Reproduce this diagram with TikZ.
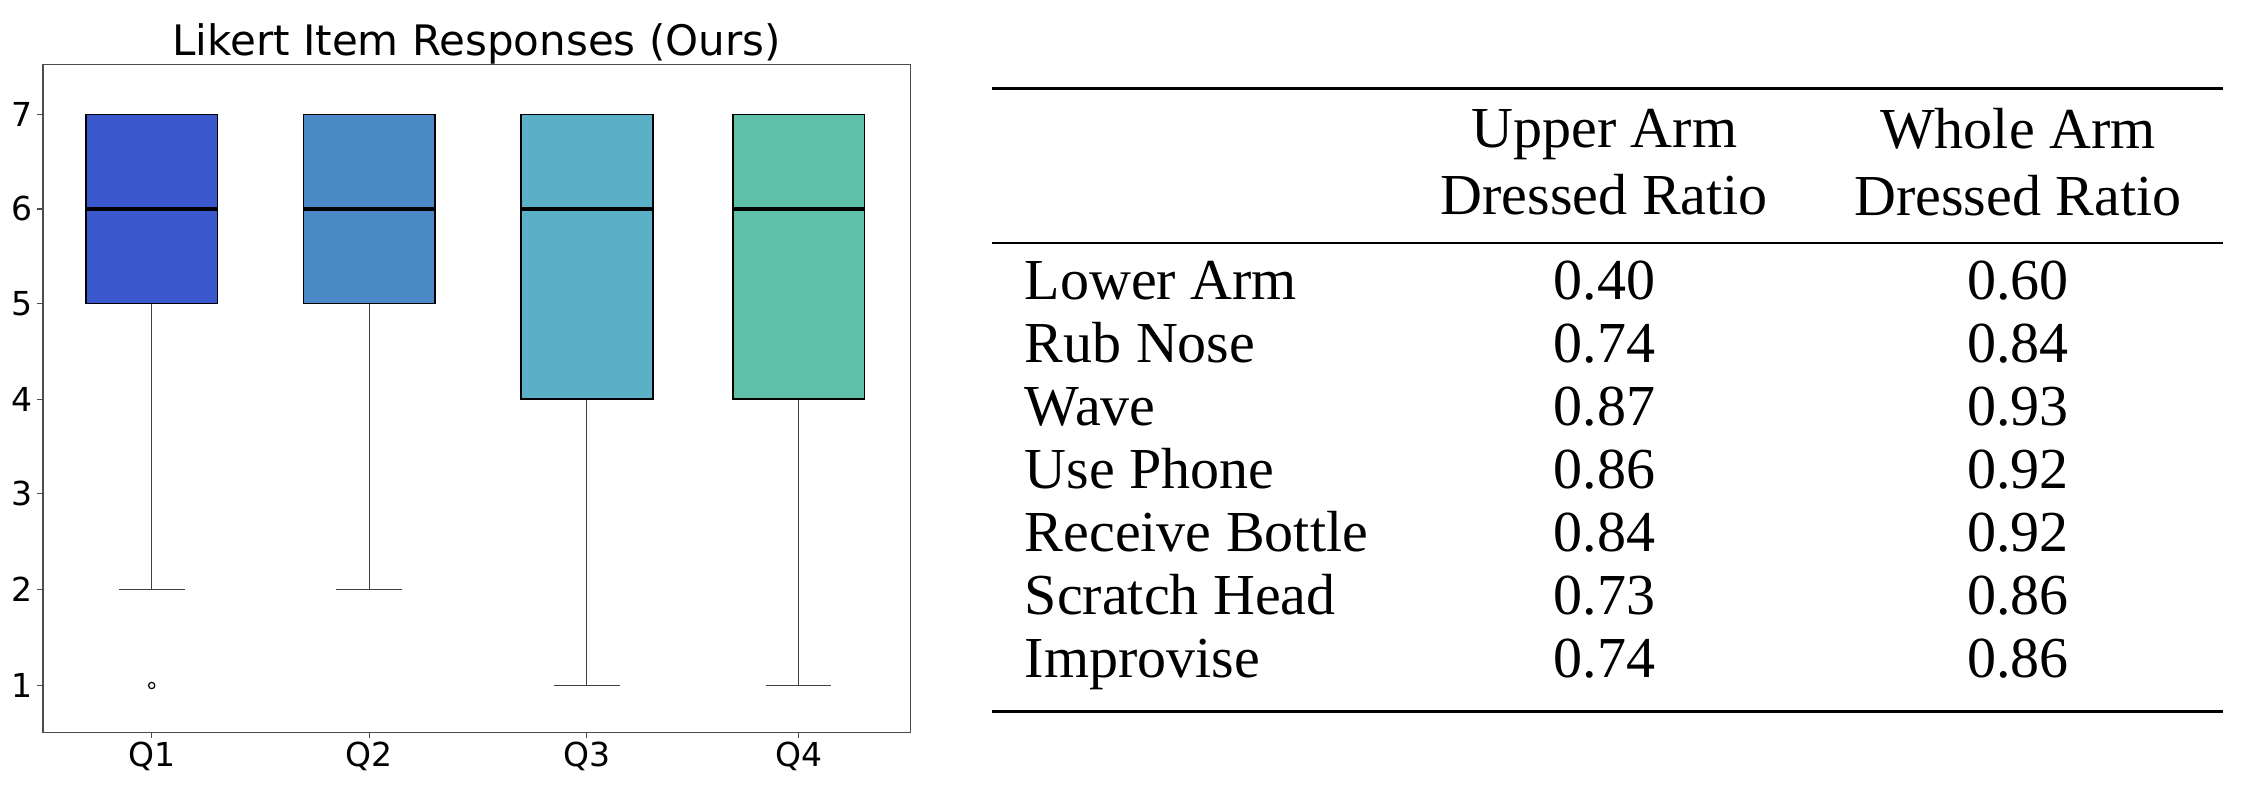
\documentclass[tikz,border=0pt]{standalone}
\usepackage{fontspec}
\setmainfont{Liberation Serif}
\newfontfamily\dvs{DejaVu Sans}
\definecolor{cA}{HTML}{3A58CC}
\definecolor{cB}{HTML}{4A88C6}
\definecolor{cC}{HTML}{5BAFC6}
\definecolor{cD}{HTML}{5FC0A9}
\begin{document}
\begin{tikzpicture}[x=1.431pt,y=-1.431pt,
  tick/.style={font=\dvs\fontsize{33}{33}\selectfont},
  boxq/.style={draw=black,line width=1.8pt},
  whisk/.style={draw=black!75,line width=1.2pt},
  med/.style={line width=4.2pt,black},
  cell/.style={font=\fontsize{58}{58}\selectfont,inner sep=0pt},
  hcell/.style={font=\fontsize{58}{67}\selectfont,align=center,inner sep=0pt}]
\useasboundingbox (0,0) rectangle (1568,549.3);
\fill[white] (0,0) rectangle (1568,549.3);
% axes
\draw[black!70,line width=1.2pt] (30,45) rectangle (636,512);
\node[font=\dvs\fontsize{42}{42}\selectfont] (title) at (333,31) {Likert Item Responses (Ours)};
\foreach \v/\yy in {7/80,6/146,5/212,4/279,3/345,2/412,1/479}{
  \draw[black!70,line width=1.2pt] (30,\yy) -- (26,\yy);
  \node[tick,anchor=east] (yt\v) at (25,\yy) {\v};}
\foreach \q/\xx/\c/\lo/\qlo in {1/106/cA/412/212,2/258/cB/412/212,3/410/cC/479/279,4/558/cD/479/279}{
  \draw[black!70,line width=1.2pt] (\xx,512) -- (\xx,516);
  \node[tick,anchor=north] (xt\q) at (\xx,516) {Q\q};
  \draw[whisk] (\xx,\qlo) -- (\xx,\lo);
  \draw[whisk] (\xx-23,\lo) -- (\xx+23,\lo);
  \draw[boxq,fill=\c] (\xx-46,80) rectangle (\xx+46,\qlo);
  \draw[med] (\xx-46,146) -- (\xx+46,146);}
\draw[black,line width=1.2pt] (106,479) circle (2.2);
% table
\draw[line width=3pt] (693,62) -- (1553,62);
\draw[line width=1.8pt] (693,170) -- (1553,170);
\draw[line width=3pt] (693,497) -- (1553,497);
\node[hcell] (h1) at (1121,113) {Upper Arm\\Dressed Ratio};
\node[hcell] (h2) at (1410,113) {Whole Arm\\Dressed Ratio};
\foreach \n/\a/\b [count=\i from 0] in {Lower Arm/0.40/0.60,Rub Nose/0.74/0.84,Wave/0.87/0.93,Use Phone/0.86/0.92,Receive Bottle/0.84/0.92,Scratch Head/0.73/0.86,Improvise/0.74/0.86}{
  \pgfmathsetmacro\yy{201+44*\i}
  \node[cell,anchor=west] (r\i) at (716,\yy) {\strut\n};
  \node[cell] (a\i) at (1121,\yy) {\strut\a};
  \node[cell] (b\i) at (1410,\yy) {\strut\b};}
\end{tikzpicture}
\end{document}
